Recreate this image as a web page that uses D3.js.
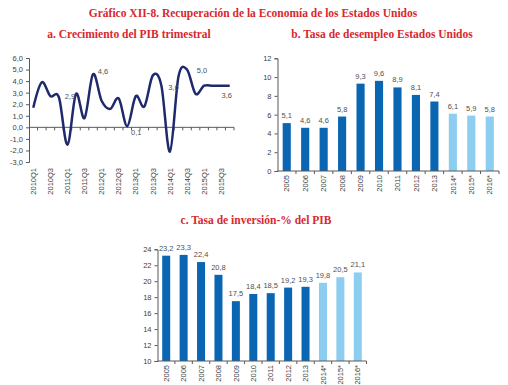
<!DOCTYPE html>
<html>
<head>
<meta charset="utf-8">
<script src="https://cdn.jsdelivr.net/npm/d3@7"></script>
<style>
  html, body { margin: 0; padding: 0; background: #fff; }
  svg { display: block; }
  .tick text { font-family: "Liberation Sans", Arial, sans-serif; font-size: 7.5px; fill: #404040; }
  .lbl { font-family: "Liberation Sans", Arial, sans-serif; font-size: 7.5px; fill: #505050; }
  .ttl { font-family: "Liberation Serif", "DejaVu Serif", serif; font-weight: bold; fill: #d8282e; }
</style>
</head>
<body>
<svg id="chart" width="508" height="385"></svg>
<script>
// --- Data -----------------------------------------------------------
const quarters = [
  "2010Q1","2010Q2","2010Q3","2010Q4",
  "2011Q1","2011Q2","2011Q3","2011Q4",
  "2012Q1","2012Q2","2012Q3","2012Q4",
  "2013Q1","2013Q2","2013Q3","2013Q4",
  "2014Q1","2014Q2","2014Q3","2014Q4",
  "2015Q1","2015Q2","2015Q3","2015Q4"
];
const gdpGrowth = [1.7, 3.9, 2.7, 2.6, -1.5, 2.9, 0.8, 4.6, 2.3, 1.6, 2.5, 0.1,
                   2.7, 1.8, 4.5, 3.6, -2.1, 4.4, 5.0, 2.9, 3.6, 3.6, 3.6, 3.6];
const gdpTicks = [-3, -2, -1, 0, 1, 2, 3, 4, 5, 6];

const years = ["2005","2006","2007","2008","2009","2010","2011","2012","2013","2014*","2015*","2016*"];
const projected = [false,false,false,false,false,false,false,false,false,true,true,true];
const unemployment = [5.1, 4.6, 4.6, 5.8, 9.3, 9.6, 8.9, 8.1, 7.4, 6.1, 5.9, 5.8];
const unemploymentTicks = [0, 2, 4, 6, 8, 10, 12];
const investment = [23.2, 23.3, 22.4, 20.8, 17.5, 18.4, 18.5, 19.2, 19.3, 19.8, 20.5, 21.1];
const investmentTicks = [10, 12, 14, 16, 18, 20, 22, 24];

// Which quarterly points carry a value label, and where the label sits
const gdpLabelled = [
  { q: "2011Q2", dx: -6,  dy: 5 },
  { q: "2011Q4", dx: 10,  dy: 0 },
  { q: "2012Q4", dx: 9,   dy: 9 },
  { q: "2013Q4", dx: 12,  dy: 4 },
  { q: "2014Q3", dx: 15,  dy: 3 },
  { q: "2015Q4", dx: -3,  dy: 12 }
];

// --- Helpers --------------------------------------------------------
const svg = d3.select("#chart");
const fmt = v => d3.format(".1f")(v).replace(".", ",").replace("−", "-");
const AXIS = "#595959";
const DARK = "#0a66b2";
const LIGHT = "#8ccdf0";

function title(text, x, y, size) {
  svg.append("text").attr("class", "ttl")
    .attr("x", x).attr("y", y)
    .attr("text-anchor", "middle")
    .style("font-size", size + "px")
    .text(text);
}

function styleAxis(g) {
  g.selectAll(".domain").attr("stroke", AXIS).attr("stroke-width", 1);
  g.selectAll(".tick line").attr("stroke", AXIS);
}

// Category axis with tick marks between categories and vertical labels
function categoryAxis(x, yPos, labelTop, labels) {
  const g = svg.append("g");
  const [r0, r1] = x.range();
  g.append("line").attr("x1", r0).attr("x2", r1).attr("y1", yPos).attr("y2", yPos)
    .attr("stroke", AXIS).attr("stroke-width", 1);
  const step = x.step();
  for (let i = 1; i <= x.domain().length; i++) {
    const xx = x(x.domain()[0]) - x.step() * x.paddingOuter() + step * i;
    g.append("line").attr("x1", xx).attr("x2", xx).attr("y1", yPos).attr("y2", yPos + 3)
      .attr("stroke", AXIS);
  }
  g.selectAll("text.xl").data(labels).join("text")
    .attr("class", "lbl")
    .style("fill", "#404040")
    .attr("transform", d => `translate(${x(d) + x.bandwidth() / 2 + 2.7},${labelTop}) rotate(-90)`)
    .attr("text-anchor", "end")
    .text(d => d);
}

// --- Titles ---------------------------------------------------------
title("Gráfico XII-8. Recuperación de la Economía de los Estados Unidos", 253, 17, 11.5);
title("a. Crecimiento del PIB trimestral", 129, 38, 11.5);
title("b. Tasa de desempleo Estados Unidos", 382, 37.5, 11.5);
title("c. Tasa de inversión-% del PIB", 256, 224, 11.5);

// --- a. Quarterly GDP growth ----------------------------------------
{
  const x = d3.scaleBand().domain(quarters).range([29, 234]).paddingInner(0).paddingOuter(0);
  const y = d3.scaleLinear().domain([-3, 6]).range([162, 58]);
  const cx = q => x(q) + x.bandwidth() / 2;

  const ya = svg.append("g").attr("transform", "translate(29,0)")
    .call(d3.axisLeft(y).tickValues(gdpTicks).tickSizeOuter(0).tickSize(3).tickPadding(3).tickFormat(fmt));
  styleAxis(ya);

  categoryAxis(x, y(0), 167.5, []);
  svg.append("g").selectAll("text").data(quarters.filter((q, i) => i % 2 === 0)).join("text")
    .attr("class", "lbl").style("fill", "#404040")
    .attr("transform", d => `translate(${cx(d) + 2.7},168) rotate(-90)`)
    .attr("text-anchor", "end")
    .text(d => d);

  const line = d3.line()
    .x((d, i) => cx(quarters[i]))
    .y(d => y(d))
    .curve(d3.curveCardinal.tension(0));
  svg.append("path").datum(gdpGrowth)
    .attr("d", line)
    .attr("fill", "none")
    .attr("stroke", "#1f2a6d")
    .attr("stroke-width", 2.5)
    .attr("stroke-linejoin", "round");

  svg.append("g").selectAll("text").data(gdpLabelled).join("text")
    .attr("class", "lbl")
    .attr("x", d => cx(d.q) + d.dx)
    .attr("y", d => y(gdpGrowth[quarters.indexOf(d.q)]) + d.dy)
    .attr("text-anchor", "middle")
    .text(d => fmt(gdpGrowth[quarters.indexOf(d.q)]));
}

// --- Bar chart helper (b and c) -------------------------------------
function barChart(values, ticks, domain, xr, yr, pad, labelTop) {
  const x = d3.scaleBand().domain(years).range(xr).paddingInner(pad).paddingOuter(pad / 2);
  const y = d3.scaleLinear().domain(domain).range(yr);

  const ya = svg.append("g").attr("transform", `translate(${xr[0]},0)`)
    .call(d3.axisLeft(y).tickValues(ticks).tickSizeOuter(0).tickSize(3).tickPadding(3));
  styleAxis(ya);

  svg.append("g").selectAll("rect").data(values).join("rect")
    .attr("x", (d, i) => x(years[i]))
    .attr("y", d => y(d))
    .attr("width", x.bandwidth())
    .attr("height", d => y(domain[0]) - y(d))
    .attr("fill", (d, i) => projected[i] ? LIGHT : DARK);

  svg.append("g").selectAll("text").data(values).join("text")
    .attr("class", "lbl")
    .attr("x", (d, i) => x(years[i]) + x.bandwidth() / 2)
    .attr("y", d => y(d) - 5)
    .attr("text-anchor", "middle")
    .text(d => fmt(d));

  categoryAxis(x, y(domain[0]), labelTop, years);
}

// --- b. Unemployment rate -------------------------------------------
barChart(unemployment, unemploymentTicks, [0, 12], [277.5, 499], [171, 58.3], 0.56, 175);

// --- c. Investment rate ---------------------------------------------
barChart(investment, investmentTicks, [10, 24], [157.5, 366.5], [361, 249.3], 0.54, 365);
</script>
</body>
</html>
